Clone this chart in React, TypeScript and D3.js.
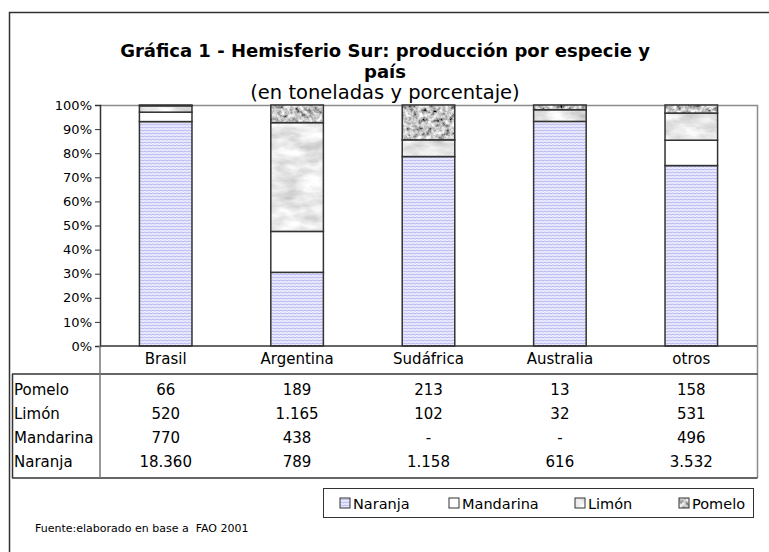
import React, { useEffect, useRef } from 'react';
import * as d3 from 'd3';

const categories = ["Brasil", "Argentina", "Sudáfrica", "Australia", "otros"];
const naranja = [18360, 789, 1158, 616, 3532];
const mandarina = [770, 438, 0, 0, 496];
const limon = [520, 1165, 102, 32, 531];
const pomelo = [66, 189, 213, 13, 158];
const seriesNames = ["Naranja", "Mandarina", "Limón", "Pomelo"];
const yTicks = [0, 0.1, 0.2, 0.3, 0.4, 0.5, 0.6, 0.7, 0.8, 0.9, 1];

const App = () => {
  const chartRef = useRef<SVGSVGElement | null>(null);

  useEffect(() => {
    if (!chartRef.current) return;
    const svg = d3.select(chartRef.current);
    svg.selectAll("*").remove();

    const font = "DejaVu Sans, Verdana, sans-serif";
    const plot = { left: 100, right: 757, top: 105, bottom: 346 };

    // patterns / textures
    const defs = svg.append("defs");
    const naranjaPat = defs.append("pattern")
      .attr("id", "pat-naranja")
      .attr("patternUnits", "userSpaceOnUse")
      .attr("width", 4)
      .attr("height", 3);
    naranjaPat.append("rect").attr("width", 4).attr("height", 3).attr("fill", "#ececff");
    naranjaPat.append("path")
      .attr("d", "M0,1.5 L1,1 L2,1.5 L3,2 L4,1.5")
      .attr("stroke", "#b4b4f0")
      .attr("stroke-width", 1)
      .attr("fill", "none");

    const makeTexture = (id: string, freq: string, a: number, b: number, seed: number) => {
      const f = defs.append("filter")
        .attr("id", id)
        .attr("x", 0).attr("y", 0).attr("width", 1).attr("height", 1)
        .attr("filterUnits", "objectBoundingBox");
      f.append("feTurbulence")
        .attr("type", "fractalNoise")
        .attr("baseFrequency", freq)
        .attr("numOctaves", 4)
        .attr("seed", seed)
        .attr("result", "noise");
      f.append("feColorMatrix")
        .attr("in", "noise")
        .attr("type", "matrix")
        .attr("values", `${b} 0 0 0 ${a}  ${b} 0 0 0 ${a}  ${b} 0 0 0 ${a}  0 0 0 0 1`)
        .attr("result", "gray");
      f.append("feComposite")
        .attr("in", "gray")
        .attr("in2", "SourceGraphic")
        .attr("operator", "in");
    };
    // marble (Limón) and granite (Pomelo)
    makeTexture("tex-limon", "0.04 0.1", 0.46, 0.7, 3);
    makeTexture("tex-pomelo", "0.22", -0.3, 1.7, 7);

    const fills = ["url(#pat-naranja)", "#ffffff", "#e0e0e0", "#8c8c8c"];
    const filters = [null, null, "url(#tex-limon)", "url(#tex-pomelo)"];

    // outer frame
    svg.append("rect")
      .attr("x", 9.5).attr("y", 12.5)
      .attr("width", 800).attr("height", 600)
      .attr("fill", "none")
      .attr("stroke", "#333")
      .attr("stroke-width", 1.5);

    // titles
    svg.append("text")
      .attr("x", 385).attr("y", 57)
      .attr("text-anchor", "middle")
      .style("font-family", font).style("font-size", "18px").style("font-weight", "bold")
      .text("Gráfica 1 - Hemisferio Sur: producción por especie y");
    svg.append("text")
      .attr("x", 385).attr("y", 78)
      .attr("text-anchor", "middle")
      .style("font-family", font).style("font-size", "18px").style("font-weight", "bold")
      .text("país");
    svg.append("text")
      .attr("x", 385).attr("y", 99)
      .attr("text-anchor", "middle")
      .style("font-family", font).style("font-size", "19.5px")
      .text("(en toneladas y porcentaje)");

    // scales
    const x = d3.scaleBand()
      .domain(categories)
      .range([plot.left, plot.right])
      .paddingInner(0.6)
      .paddingOuter(0.3);
    const y = d3.scaleLinear().domain([0, 1]).range([plot.bottom, plot.top]);

    const rows = categories.map((c, i) => ({
      cat: c,
      Naranja: naranja[i],
      Mandarina: mandarina[i],
      "Limón": limon[i],
      Pomelo: pomelo[i]
    }));
    const stacked = d3.stack<any>()
      .keys(seriesNames)
      .offset(d3.stackOffsetExpand)(rows);

    // plot border (top & right)
    svg.append("path")
      .attr("d", `M${plot.left},${plot.top + 0.5} H${plot.right + 0.5} V${478}`)
      .attr("fill", "none")
      .attr("stroke", "#8c8c8c")
      .attr("stroke-width", 1.5);

    // bars
    stacked.forEach((layer, si) => {
      const g = svg.append("g");
      layer.forEach((d: any) => {
        const h = y(d[0]) - y(d[1]);
        if (h <= 0) return;
        const rx = x(d.data.cat)!;
        const rect = g.append("rect")
          .attr("x", rx).attr("y", y(d[1]))
          .attr("width", x.bandwidth()).attr("height", h)
          .attr("fill", fills[si]);
        if (filters[si]) rect.attr("filter", filters[si]);
        g.append("rect")
          .attr("x", rx).attr("y", y(d[1]))
          .attr("width", x.bandwidth()).attr("height", h)
          .attr("fill", "none")
          .attr("stroke", "#333")
          .attr("stroke-width", 1.5);
      });
    });

    // y axis
    const yAxis = svg.append("g")
      .attr("transform", `translate(${plot.left},0)`)
      .call(d3.axisLeft(y).tickValues(yTicks).tickFormat(d3.format(".0%")).tickSize(5).tickPadding(3));
    yAxis.select(".domain").attr("stroke", "#333").attr("stroke-width", 1.5);
    yAxis.selectAll(".tick line").attr("stroke", "#333");
    yAxis.selectAll("text")
      .style("font-family", font).style("font-size", "13px").attr("fill", "#000");

    // baseline
    svg.append("line")
      .attr("x1", plot.left).attr("x2", plot.right)
      .attr("y1", plot.bottom).attr("y2", plot.bottom)
      .attr("stroke", "#333").attr("stroke-width", 1.5);

    // category labels
    categories.forEach(c => {
      svg.append("text")
        .attr("x", x(c)! + x.bandwidth() / 2).attr("y", 364)
        .attr("text-anchor", "middle")
        .style("font-family", font).style("font-size", "15px")
        .text(c);
    });

    // data table
    const tableTop = 374;
    const tableBottom = 478;
    const rowH = 24;
    svg.append("line")
      .attr("x1", 12).attr("x2", plot.right + 0.5)
      .attr("y1", tableTop).attr("y2", tableTop)
      .attr("stroke", "#333").attr("stroke-width", 1.5);
    svg.append("line")
      .attr("x1", 12).attr("x2", plot.right + 0.5)
      .attr("y1", tableBottom).attr("y2", tableBottom)
      .attr("stroke", "#333").attr("stroke-width", 1.5);
    svg.append("line")
      .attr("x1", 12.5).attr("x2", 12.5)
      .attr("y1", tableTop).attr("y2", tableBottom)
      .attr("stroke", "#333").attr("stroke-width", 1.5);
    svg.append("line")
      .attr("x1", plot.left).attr("x2", plot.left)
      .attr("y1", plot.bottom).attr("y2", tableBottom)
      .attr("stroke", "#777").attr("stroke-width", 1.5);

    const fmt = (v: number) => v === 0 ? "-" : d3.format(",")(v).replace(/,/g, ".");
    const tableRows = [
      { name: "Pomelo", values: pomelo },
      { name: "Limón", values: limon },
      { name: "Mandarina", values: mandarina },
      { name: "Naranja", values: naranja }
    ];
    tableRows.forEach((r, ri) => {
      const ty = tableTop + 21 + ri * rowH;
      svg.append("text")
        .attr("x", 14).attr("y", ty)
        .style("font-family", font).style("font-size", "15px")
        .text(r.name);
      r.values.forEach((v, ci) => {
        svg.append("text")
          .attr("x", x(categories[ci])! + x.bandwidth() / 2).attr("y", ty)
          .attr("text-anchor", "middle")
          .style("font-family", font).style("font-size", "15px")
          .text(fmt(v));
      });
    });

    // legend
    svg.append("rect")
      .attr("x", 323.5).attr("y", 488.5)
      .attr("width", 430).attr("height", 29)
      .attr("fill", "#fff")
      .attr("stroke", "#333");
    const legendX = [340, 449, 575, 679];
    seriesNames.forEach((name, i) => {
      const g = svg.append("g").attr("transform", `translate(${legendX[i]},498)`);
      const sq = g.append("rect")
        .attr("width", 10).attr("height", 10)
        .attr("fill", fills[i]);
      if (filters[i]) sq.attr("filter", filters[i]);
      g.append("rect")
        .attr("width", 10).attr("height", 10)
        .attr("fill", "none").attr("stroke", "#333");
      g.append("text")
        .attr("x", 13).attr("y", 10.5)
        .style("font-family", font).style("font-size", "14.5px")
        .text(name);
    });

    // source
    svg.append("text")
      .attr("x", 35).attr("y", 532)
      .style("font-family", font).style("font-size", "11px")
      .style("white-space", "pre")
      .text("Fuente:elaborado en base a  FAO 2001");
  }, []);

  return (
    <div style={{ position: 'absolute', left: 0, top: 0 }}>
      <svg ref={chartRef} width={769} height={552} style={{ display: 'block', background: '#fff' }} />
    </div>
  );
};

export default App;
